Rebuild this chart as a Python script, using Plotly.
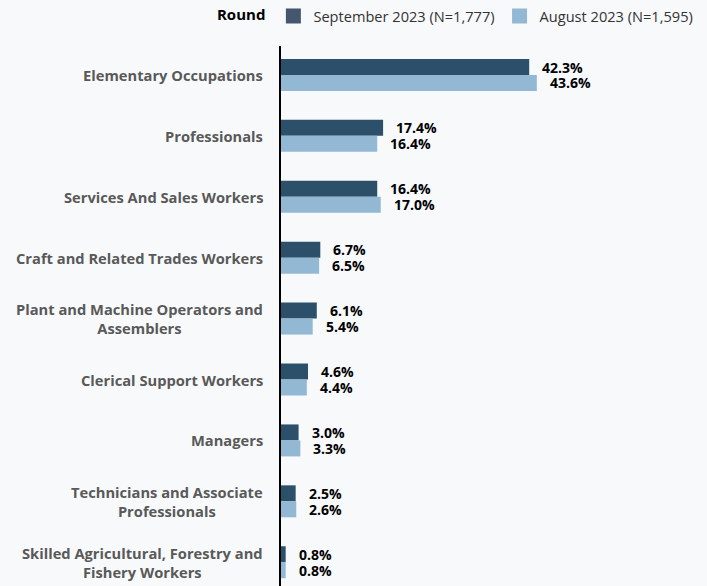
import plotly.graph_objects as go

# Occupation categories (top to bottom)
categories = [
    "Elementary Occupations",
    "Professionals",
    "Services And Sales Workers",
    "Craft and Related Trades Workers",
    "Plant and Machine Operators and<br>Assemblers",
    "Clerical Support Workers",
    "Managers",
    "Technicians and Associate<br>Professionals",
    "Skilled Agricultural, Forestry and<br>Fishery Workers",
]
sep_2023 = [42.3, 17.4, 16.4, 6.7, 6.1, 4.6, 3.0, 2.5, 0.8]
aug_2023 = [43.6, 16.4, 17.0, 6.5, 5.4, 4.4, 3.3, 2.6, 0.8]
series_names = ["September 2023 (N=1,777)", "August 2023 (N=1,595)"]

DARK = "#2c5069"
LIGHT = "#93b8d3"
BG = "#f8f9fb"
FONT = "Open Sans"

fig = go.Figure()
for name, vals, col in [(series_names[0], sep_2023, DARK), (series_names[1], aug_2023, LIGHT)]:
    fig.add_trace(go.Bar(
        y=categories, x=vals, orientation="h", name=name,
        marker=dict(color=col, line=dict(width=0)),
        hoverinfo="skip", showlegend=False,
    ))

# Legend entries with larger square swatches
for name, col in [(series_names[0], "#46566e"), (series_names[1], LIGHT)]:
    fig.add_trace(go.Scatter(
        x=[None], y=[None], mode="markers", name=name,
        marker=dict(symbol="square", size=15, color=col),
        hoverinfo="skip", showlegend=True,
    ))

annotations = []
# Category labels, centred text, right edge just left of the axis line
for i, cat in enumerate(categories):
    annotations.append(dict(
        x=0, y=i, xref="paper", yref="y", text=cat, showarrow=False,
        xanchor="right", yanchor="middle", align="center", xshift=-16,
        font=dict(family=FONT, size=14.7, color="#595959", weight="bold"),
    ))

# Value labels just right of each bar end
for i, cat in enumerate(categories):
    for vals, off in [(sep_2023, -0.13), (aug_2023, 0.13)]:
        annotations.append(dict(
            x=vals[i], y=i + off, xref="x", yref="y",
            text=f"<b>{vals[i]:.1f}%</b>", showarrow=False,
            xanchor="left", yanchor="middle", xshift=11,
            font=dict(family=FONT, size=14, color="#000000"),
        ))

fig.update_layout(
    width=707, height=586,
    paper_bgcolor=BG, plot_bgcolor=BG,
    margin=dict(l=281, r=0, t=45, b=0, pad=0),
    barmode="group", bargap=0.475, bargroupgap=0,
    font=dict(family=FONT, color="#333333"),
    showlegend=True,
    legend=dict(
        orientation="h", x=-0.155, xanchor="left", y=1.085, yanchor="top",
        title=dict(text="<b>Round</b>", font=dict(family=FONT, size=15, color="#000000")),
        font=dict(family=FONT, size=14.6, color="#333333"),
        bgcolor="rgba(0,0,0,0)", itemwidth=30, tracegroupgap=0,
        traceorder="normal",
    ),
    annotations=annotations,
)
fig.update_xaxes(range=[0, 72.6], visible=False, fixedrange=True)
fig.update_yaxes(
    type="category", categoryorder="array", categoryarray=categories,
    range=[8.39, -0.475], autorange=False,
    showline=True, linecolor="#000000", linewidth=1.5,
    showgrid=False, zeroline=False, ticks="", showticklabels=False,
    automargin=False, fixedrange=True,
)

fig.write_html("out.html")
